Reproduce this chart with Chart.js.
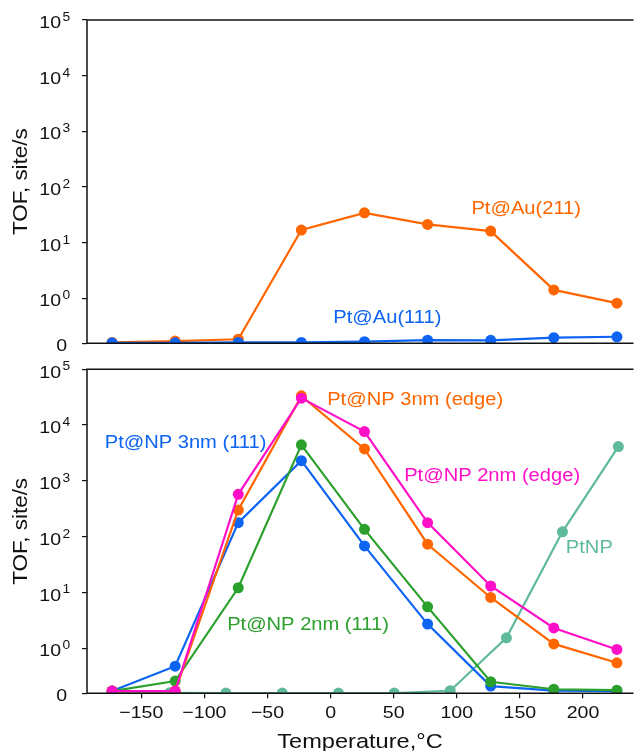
<!DOCTYPE html>
<html>
<head>
<meta charset="utf-8">
<script src="https://cdn.jsdelivr.net/npm/chart.js@4.4.1/dist/chart.umd.min.js"></script>
<style>
  body { margin: 0; background: #fff; }
  #wrap { position: relative; width: 639px; height: 751px; }
  canvas { position: absolute; left: 0; }
</style>
</head>
<body>
<div id="wrap">
  <canvas id="topChart" width="639" height="355" style="top:0"></canvas>
  <canvas id="bottomChart" width="639" height="396" style="top:355px"></canvas>
</div>
<script>
// temperatures in °C (100 K ... 500 K)
const temps = [-173.15, -123.15, -73.15, -23.15, 26.85, 76.85, 126.85, 176.85, 226.85];
const tempsPtNP = [-172, -127.6, -83, -38.3, 6.2, 50.4, 94.8, 139.3, 183.7, 228];

// top panel, TOF site/s
const tofAu211 = [0.02, 0.05, 0.09, 16.8, 34.2, 21.2, 16.1, 1.41, 0.89];
const tofAu111 = [0.01, 0.01, 0.02, 0.02, 0.035, 0.07, 0.065, 0.125, 0.145];

// bottom panel, TOF site/s
const tofNP3edge = [0.05, 0.05, 300, 33400, 3740, 73, 8.1, 1.19, 0.675];
const tofNP2edge = [0.05, 0.05, 574, 30400, 7640, 178, 13, 2.3, 0.97];
const tofNP3_111 = [0.05, 0.6, 178, 2300, 68, 2.7, 0.16, 0.06, 0.05];
const tofNP2_111 = [0.05, 0.27, 12.1, 4415, 135, 5.5, 0.256, 0.09, 0.07];
const tofPtNP = [0.01, 0.01, 0.005, 0.005, 0.005, 0.005, 0.057, 1.53, 122, 4110];

const xTicks = [-150, -100, -50, 0, 50, 100, 150, 200];
const yTicks = [0, 1, 10, 100, 1000, 10000, 100000];

const ORANGE = '#ff6600';
const BLUE = '#0d63f2';
const PINK = '#ff10c8';
const GREEN = '#2ca02c';
const TEAL = '#5fb99d';
const INK = '#111';

// symlog-like axis: 0..1 linear, then one decade per log step
const LIN = 0.81;
function symT(v) { return v <= 1 ? LIN * Math.max(v, 0) : LIN + Math.log10(v); }
function symInv(t) { return t <= LIN ? t / LIN : Math.pow(10, t - LIN); }

class SymLogScale extends Chart.LinearScale {
  static id = 'symlog';
  buildTicks() {
    return yTicks.map(v => ({ value: v }));
  }
  getPixelForValue(value) {
    const t0 = symT(this.min), t1 = symT(this.max);
    return this.getPixelForDecimal((symT(value) - t0) / (t1 - t0));
  }
  getValueForPixel(pixel) {
    const t0 = symT(this.min), t1 = symT(this.max);
    return symInv(t0 + this.getDecimalForPixel(pixel) * (t1 - t0));
  }
}
Chart.register(SymLogScale);

const SX = 1.15;
function putText(ctx, str, x, y, size, color, align, baseline, rot) {
  ctx.save();
  ctx.translate(x, y);
  if (rot) ctx.rotate(rot);
  ctx.scale(SX, 1);
  ctx.font = size + 'px "Liberation Sans", Arial, sans-serif';
  ctx.fillStyle = color;
  ctx.textAlign = align;
  ctx.textBaseline = baseline || 'alphabetic';
  ctx.fillText(str, 0, 0);
  ctx.restore();
}

function makeOverlay(notes, withXLabels) {
  return {
    id: 'overlay',
    afterDatasetsDraw(chart) {
      const { ctx, chartArea: a, scales } = chart;
      ctx.save();
      ctx.strokeStyle = INK;
      ctx.lineWidth = 1.5;
      ctx.beginPath();
      ctx.moveTo(a.left, a.bottom);
      ctx.lineTo(a.left, a.top);
      ctx.lineTo(a.right, a.top);
      ctx.moveTo(a.left, a.bottom);
      ctx.lineTo(a.right, a.bottom);
      ctx.stroke();
      ctx.restore();

      yTicks.forEach(v => {
        const py = scales.y.getPixelForValue(v);
        if (v === 0) {
          putText(ctx, '0', 67, py + 7.5, 17, INK, 'right');
        } else {
          const e = Math.round(Math.log10(v));
          putText(ctx, '10', 61, py + 8.2, 17, INK, 'right');
          putText(ctx, String(e), 62.5, py + 1, 12, INK, 'left');
        }
      });
      putText(ctx, 'TOF, site/s', 27, (a.top + a.bottom) / 2, 19.5, INK, 'center', 'alphabetic', -Math.PI / 2);

      if (withXLabels) {
        xTicks.forEach(v => {
          const lab = v < 0 ? '\u2212' + Math.abs(v) : String(v);
          putText(ctx, lab, scales.x.getPixelForValue(v), a.bottom + 25, 17, INK, 'center');
        });
        putText(ctx, 'Temperature,\u00b0C', 360, a.bottom + 55, 20.5, INK, 'center');
      }

      notes.forEach(n => {
        putText(ctx, n.text, scales.x.getPixelForValue(n.x), scales.y.getPixelForValue(n.y), 17.5, n.color, 'center', 'middle');
      });
    }
  };
}

function lineSet(label, xs, ys, color, order) {
  return {
    label: label,
    data: xs.map((x, i) => ({ x: x, y: ys[i] })),
    borderColor: color,
    backgroundColor: color,
    borderWidth: 2.2,
    pointRadius: 5.5,
    pointHoverRadius: 5.5,
    pointBorderWidth: 0,
    order: order
  };
}

function axisTicks() {
  return { display: true, drawOnChartArea: false, drawTicks: true, tickLength: 5, color: INK, lineWidth: 1.2 };
}

function makeOptions(padTop, padBottom, showX, xHeight) {
  return {
    responsive: false,
    animation: false,
    layout: { padding: { top: padTop, bottom: padBottom, left: 0, right: 0 } },
    plugins: { legend: { display: false }, tooltip: { enabled: false } },
    scales: {
      x: {
        type: 'linear', min: -193, max: 240, display: showX,
        afterBuildTicks: s => { s.ticks = xTicks.map(v => ({ value: v })); },
        afterFit: s => { s.height = xHeight; },
        grid: axisTicks(), border: { display: false }, ticks: { display: false }
      },
      y: {
        type: 'symlog', min: 0, max: 100000,
        afterFit: s => { s.width = 87; },
        grid: axisTicks(), border: { display: false }, ticks: { display: false }
      }
    }
  };
}

const topNotes = [
  { text: 'Pt@Au(211)', x: 155, y: 40.6, color: ORANGE },
  { text: 'Pt@Au(111)', x: 45, y: 0.55, color: BLUE }
];
const bottomNotes = [
  { text: 'Pt@NP 3nm (edge)', x: 67, y: 27400, color: ORANGE },
  { text: 'Pt@NP 3nm (111)', x: -114.9, y: 4770, color: BLUE },
  { text: 'Pt@NP 2nm (edge)', x: 128, y: 1200, color: PINK },
  { text: 'PtNP', x: 205, y: 62, color: TEAL },
  { text: 'Pt@NP 2nm (111)', x: -17.9, y: 2.6, color: GREEN }
];

new Chart(document.getElementById('topChart'), {
  type: 'line',
  data: {
    datasets: [
      lineSet('Pt@Au(111)', temps, tofAu111, BLUE, 0),
      lineSet('Pt@Au(211)', temps, tofAu211, ORANGE, 1)
    ]
  },
  options: makeOptions(20, 11.7, false, 0),
  plugins: [makeOverlay(topNotes, false)]
});

new Chart(document.getElementById('bottomChart'), {
  type: 'line',
  data: {
    datasets: [
      lineSet('Pt@NP 2nm (edge)', temps, tofNP2edge, PINK, 0),
      lineSet('Pt@NP 3nm (edge)', temps, tofNP3edge, ORANGE, 1),
      lineSet('Pt@NP 2nm (111)', temps, tofNP2_111, GREEN, 2),
      lineSet('Pt@NP 3nm (111)', temps, tofNP3_111, BLUE, 3),
      lineSet('PtNP', tempsPtNP, tofPtNP, TEAL, 4)
    ]
  },
  options: makeOptions(14.3, 0, true, 57.7),
  plugins: [makeOverlay(bottomNotes, true)]
});
</script>
</body>
</html>
